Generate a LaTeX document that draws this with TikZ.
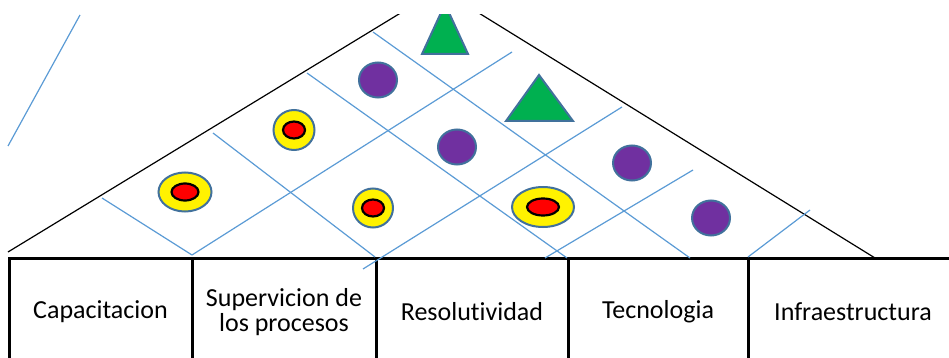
\documentclass[tikz,border=0pt]{standalone}
\usepackage{fontspec}
\setmainfont{Carlito}[Ligatures=NoCommon]
\usetikzlibrary{shapes.geometric}
\definecolor{gridblue}{HTML}{5B9BD5}
\definecolor{edgeblue}{HTML}{41719C}
\definecolor{dotpurple}{HTML}{7030A0}
\definecolor{trigreen}{HTML}{00B050}
\tikzset{
  cell/.style={draw=black,line width=3pt,minimum height=108pt,inner sep=0pt,align=center,
    font=\fontsize{26}{25}\selectfont},
  roof/.style={black,line width=1.2pt},
  gridline/.style={gridblue,line width=1.2pt},
  ring/.style={ellipse,draw=edgeblue,line width=2pt,fill=yellow,inner sep=0pt},
  core/.style={ellipse,draw=black,line width=2.2pt,fill=red,inner sep=0pt,minimum height=17pt},
  dot/.style={ellipse,draw=edgeblue,line width=2pt,fill=dotpurple,inner sep=0pt,
    minimum width=38pt,minimum height=35pt},
  tri/.style={draw=edgeblue,line width=2pt,fill=trigreen,line join=miter}
}
\begin{document}
\begin{tikzpicture}[x=1pt,y=-1pt]
  \useasboundingbox (0,0) rectangle (949,358);
  \begin{scope}
    \clip (0,15) rectangle (949,358);
    % base row
    \node[cell,minimum width=183pt] (cap) at (100.5,312) {Capacitacion};
    \node[cell,minimum width=184pt] (sup) at (284,312) {Supervicion de\\los procesos};
    \node[cell,minimum width=192pt] (res) at (472,312) {Resolutividad};
    \node[cell,minimum width=180pt] (tec) at (658,312) {Tecnologia};
    \node[cell,minimum width=210pt] (inf) at (853,312) {Infraestructura};
    % roof
    \draw[roof] (8,252) -- (440,-11) -- (875,258);
    \draw[gridline] (80,15) -- (8,146);
    % grid
    \draw[gridline] (102,198) -- (192,255);
    \draw[gridline] (213,133) -- (375,257);
    \draw[gridline] (307,73) -- (567,258);
    \draw[gridline] (373,32) -- (690,258);
    \draw[gridline] (512,52) -- (192,255);
    \draw[gridline] (622,107) -- (363,269);
    \draw[gridline] (693,170) -- (545,258);
    \draw[gridline] (810,210) -- (748,257);
    % marks
    \node[ring,minimum width=53pt,minimum height=39pt] (ringa) at (185,192) {};
    \node[core,minimum width=27pt] (corea) at (ringa) {};
    \node[ring,minimum width=41pt,minimum height=40pt] (ringb) at (294,130) {};
    \node[core,minimum width=22pt] (coreb) at (ringb) {};
    \node[ring,minimum width=40pt,minimum height=39pt] (ringc) at (373,208) {};
    \node[core,minimum width=22pt] (corec) at (ringc) {};
    \node[ring,minimum width=62pt,minimum height=40pt] (ringd) at (543,207) {};
    \node[core,minimum width=32pt] (cored) at (ringd) {};
    \node[dot] (dota) at (378,80) {};
    \node[dot] (dotb) at (457,147) {};
    \node[dot] (dotc) at (632,163) {};
    \node[dot] (dotd) at (711,218) {};
    \draw[tri] (422,54) -- (445,4) -- (468,54) -- cycle;
    \draw[tri] (506,121) -- (539,75) -- (573,121) -- cycle;
  \end{scope}
\end{tikzpicture}
\end{document}
